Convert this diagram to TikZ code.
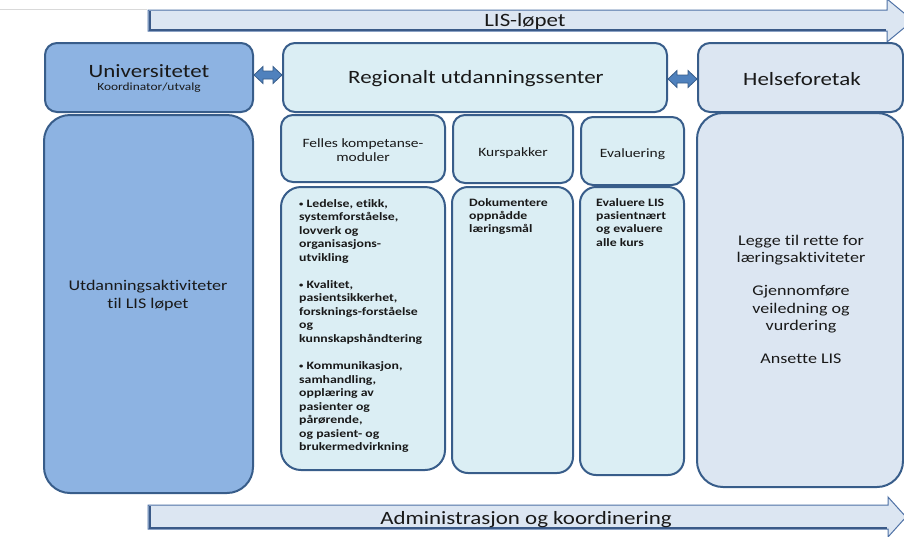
\documentclass[tikz,border=0pt]{standalone}
\usepackage{fontspec}
\setmainfont{Carlito}[Ligatures=NoCommon]
\usepackage{graphicx}
\usetikzlibrary{calc}
\definecolor{bord}{HTML}{385D8A}
\definecolor{univfill}{HTML}{8DB3E2}
\definecolor{regfill}{HTML}{DBEEF4}
\definecolor{helsefill}{HTML}{DCE6F2}
\definecolor{arrfill}{HTML}{DCE6F2}
\definecolor{dblfill}{HTML}{4F81BD}
\definecolor{arrbord}{HTML}{4F72A6}
\definecolor{arrshadow}{HTML}{3B5A88}
\newcommand\tb[4]{\scalebox{1.22}[1]{\fontsize{#1}{#2}\selectfont\begin{tabular}[t]{@{}#3@{}}#4\end{tabular}}}
\newcommand\bul{\raisebox{0.8pt}{\fontsize{7}{7}\selectfont •}}
\tikzset{
  box/.style={draw=bord, line width=2pt, inner sep=0pt},
  txt/.style={inner sep=0pt, text=black!90},
  dbl/.style={fill=dblfill, draw=bord, line width=0.8pt, line join=miter},
  bigarrow/.style={fill=arrfill, draw=arrbord, line width=1pt},
  arrshade/.style={draw=arrshadow, line width=2pt}
}
\begin{document}
\begin{tikzpicture}[x=1pt,y=-1pt]
\useasboundingbox (0,0) rectangle (904,536);
\fill[white] (0,0) rectangle (904,536);
\draw[gray!30, line width=0.8pt] (0,9) -- (147,9);

% top arrow
\draw[bigarrow] (148,10) -- (887,10) -- (887,-1) -- (913,20.5) -- (887,42) -- (887,31) -- (148,31) -- cycle;
\draw[arrshade] (149.5,11) -- (149.5,29.5) -- (886,29.5);
\node[txt, anchor=base] (lis) at (525,26) {\tb{18.8}{22}{c}{LIS-løpet}};

% bottom arrow
\draw[bigarrow] (148,505) -- (888,505) -- (888,497) -- (906,517) -- (888,537) -- (888,529) -- (148,529) -- cycle;
\draw[arrshade] (149.5,506) -- (149.5,527.5) -- (887,527.5);
\node[txt, anchor=base] (adm) at (526,524) {\tb{18.8}{22}{c}{Administrasjon og koordinering}};

% boxes
\node[box, fill=univfill, rounded corners=12pt, minimum width=208pt, minimum height=69pt] (univ) at (149,77.5) {};
\node[box, fill=univfill, rounded corners=26pt, minimum width=209pt, minimum height=378pt] (utd) at (148.5,304) {};
\node[box, fill=regfill, rounded corners=12pt, minimum width=384pt, minimum height=69pt] (reg) at (475,77.5) {};
\node[box, fill=helsefill, rounded corners=12pt, minimum width=205pt, minimum height=69pt] (helse) at (800.5,77.5) {};
\node[box, fill=helsefill, rounded corners=26pt, minimum width=206pt, minimum height=374pt] (helsebody) at (800,300) {};
\node[box, fill=regfill, rounded corners=12pt, minimum width=164pt, minimum height=67pt] (felles) at (363,148.5) {};
\node[box, fill=regfill, rounded corners=12pt, minimum width=120pt, minimum height=68pt] (kurs) at (513,149) {};
\node[box, fill=regfill, rounded corners=12pt, minimum width=103pt, minimum height=68pt] (evalh) at (632.5,151) {};
\node[box, fill=regfill, rounded corners=20pt, minimum width=164pt, minimum height=283pt] (fellesbody) at (363,328.5) {};
\node[box, fill=regfill, rounded corners=16pt, minimum width=121pt, minimum height=286pt] (dok) at (512.5,330) {};
\node[box, fill=regfill, rounded corners=16pt, minimum width=104pt, minimum height=288pt] (evalb) at (632,331) {};

% double arrows
\coordinate (a1) at ($(univ.east)+(0,-2.5)$);
\coordinate (a2) at ($(reg.west)+(0,-2.5)$);
\filldraw[dbl] (a1) -- ++(9,-8.5) -- ++(0,4.5) -- ($(a2)+(-9,-4)$) -- ++(0,-4.5) -- (a2) -- ++(-9,8.5) -- ++(0,-4.5) -- ($(a1)+(9,4)$) -- ++(0,4.5) -- cycle;
\coordinate (b1) at ($(reg.east)+(0,1.5)$);
\coordinate (b2) at ($(helse.west)+(0,1.5)$);
\filldraw[dbl] (b1) -- ++(9,-8.5) -- ++(0,4.5) -- ($(b2)+(-9,-4)$) -- ++(0,-4.5) -- (b2) -- ++(-9,8.5) -- ++(0,-4.5) -- ($(b1)+(9,4)$) -- ++(0,4.5) -- cycle;

% texts
\node[txt, anchor=base] (univt) at (149,77) {\tb{18.8}{22}{c}{Universitetet}};
\node[txt, anchor=base] (koord) at (149,90.5) {\tb{11}{13.5}{c}{Koordinator/utvalg}};
\node[txt, anchor=base] (regt) at (476,83) {\tb{18.8}{22}{c}{Regionalt utdanningssenter}};
\node[txt, anchor=base] (helset) at (802,85) {\tb{18.8}{22}{c}{Helseforetak}};
\node[txt, anchor=base] (utdt) at (148,290) {\tb{14.8}{18}{c}{Utdanningsaktiviteter\\til LIS løpet}};
\node[txt, anchor=base] (fellest) at (363,147) {\tb{12.7}{14}{c}{Felles kompetanse-\\moduler}};
\node[txt, anchor=base] (kurst) at (513,156) {\tb{12.7}{14}{c}{Kurspakker}};
\node[txt, anchor=base] (evalt) at (632.5,157) {\tb{12.7}{14}{c}{Evaluering}};
\node[txt, anchor=base west] (fellesb) at (299,207) {\tb{11.3}{13.55}{l}{\bfseries \bul\ Ledelse, etikk,\\\bfseries systemforståelse,\\\bfseries lovverk og\\\bfseries organisasjons-\\\bfseries utvikling\\[13.55pt]\bfseries \bul\ Kvalitet,\\\bfseries pasientsikkerhet,\\\bfseries forsknings-forståelse\\\bfseries og\\\bfseries kunnskapshåndtering\\[13.55pt]\bfseries \bul\ Kommunikasjon,\\\bfseries samhandling,\\\bfseries opplæring av\\\bfseries pasienter og\\\bfseries pårørende,\\\bfseries og pasient- og\\\bfseries brukermedvirkning}};
\node[txt, anchor=base west] (dokt) at (469,206) {\tb{11.3}{13.4}{l}{\bfseries Dokumentere\\\bfseries oppnådde\\\bfseries læringsmål}};
\node[txt, anchor=base west] (evalbt) at (596,206) {\tb{11.3}{13.4}{l}{\bfseries Evaluere LIS\\\bfseries pasientnært\\\bfseries og evaluere\\\bfseries alle kurs}};
\node[txt, anchor=base] (helseb) at (801,245) {\tb{14.8}{17.5}{c}{Legge til rette for\\læringsaktiviteter\\[15.5pt]Gjennomføre\\veiledning og\\vurdering\\[15.5pt]Ansette LIS}};
\end{tikzpicture}
\end{document}
